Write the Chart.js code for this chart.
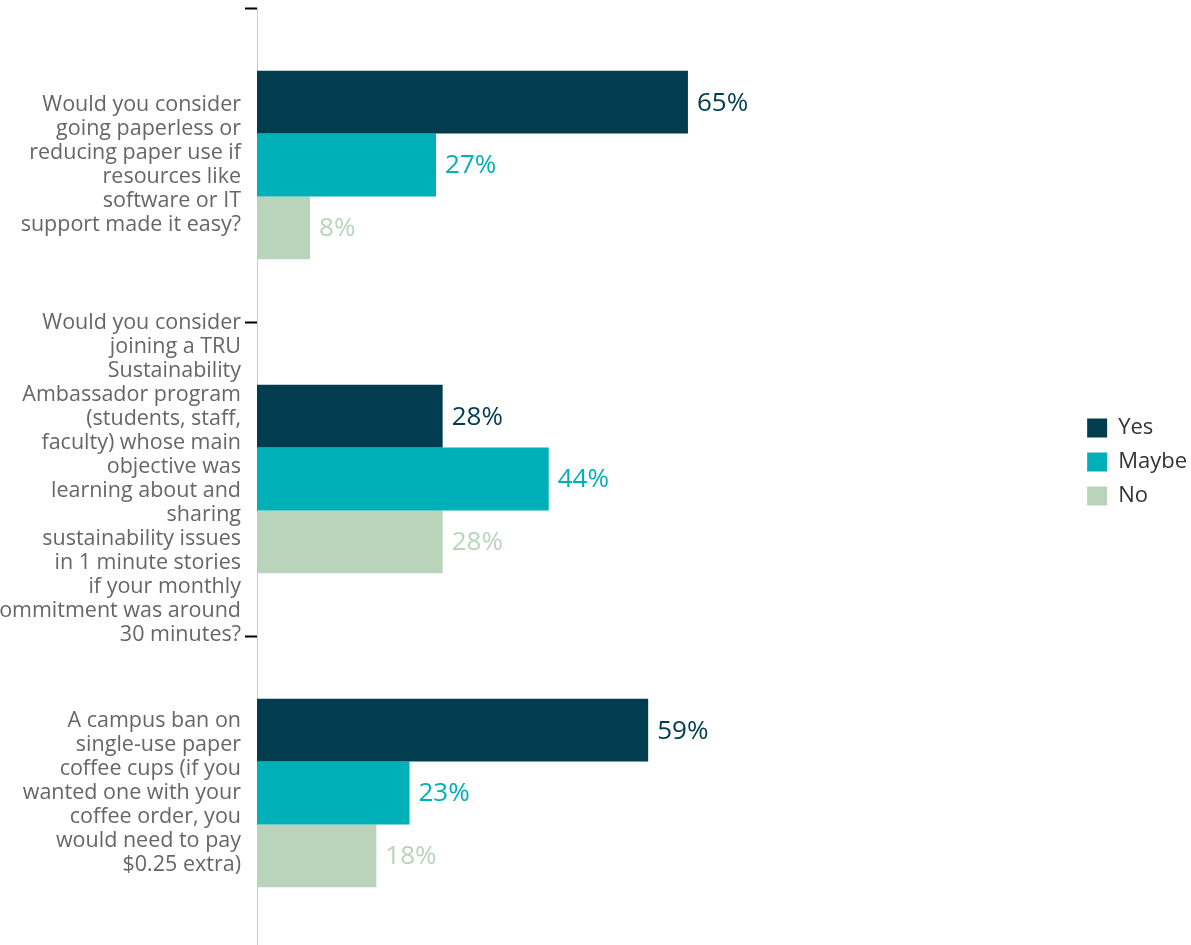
<!DOCTYPE html>
<html>
<head>
<meta charset="utf-8">
<script src="https://cdn.jsdelivr.net/npm/chart.js@4/dist/chart.umd.min.js"></script>
<style>
  html, body { margin: 0; padding: 0; background: #fff; overflow: hidden; }
  #wrap { width: 1191px; height: 950px; }
</style>
</head>
<body>
<div id="wrap"><canvas id="surveyChart"></canvas></div>
<script>
const questions = [
  ["Would you consider", "going paperless or", "reducing paper use if", "resources like", "software or IT", "support made it easy?"],
  ["Would you consider", "joining a TRU", "Sustainability", "Ambassador program", "(students, staff,", "faculty) whose main", "objective was", "learning about and", "sharing", "sustainability issues", "in 1 minute stories", "if your monthly", "commitment was around", "30 minutes?"],
  ["A campus ban on", "single-use paper", "coffee cups (if you", "wanted one with your", "coffee order, you", "would need to pay", "$0.25 extra)"]
];
const yesValues = [65, 28, 59];
const maybeValues = [27, 44, 23];
const noValues = [8, 28, 18];

const colors = { yes: "#023d4f", maybe: "#00b0b9", no: "#bad3bb" };

// draws "65%" just past the end of every bar
const valueLabels = {
  id: "valueLabels",
  afterDatasetsDraw(chart) {
    const ctx = chart.ctx;
    ctx.save();
    ctx.font = "26px 'Open Sans'";
    ctx.textBaseline = "middle";
    ctx.textAlign = "left";
    chart.data.datasets.forEach((ds, i) => {
      chart.getDatasetMeta(i).data.forEach((bar, j) => {
        ctx.fillStyle = ds.backgroundColor;
        ctx.fillText(ds.data[j] + "%", bar.x + 9, bar.y + 1);
      });
    });
    ctx.restore();
  }
};

// pull the legend a few px closer to the right edge
const tightLegend = {
  id: "tightLegend",
  beforeInit(chart) {
    const fit = chart.legend.fit;
    chart.legend.fit = function () {
      fit.call(this);
      this.width -= 6;
    };
  }
};

new Chart(document.getElementById("surveyChart"), {
  type: "bar",
  data: {
    labels: questions,
    datasets: [
      { label: "Yes", data: yesValues, backgroundColor: colors.yes },
      { label: "Maybe", data: maybeValues, backgroundColor: colors.maybe },
      { label: "No", data: noValues, backgroundColor: colors.no }
    ]
  },
  options: {
    indexAxis: "y",
    responsive: true,
    maintainAspectRatio: false,
    animation: false,
    categoryPercentage: 0.6,
    barPercentage: 1.0,
    layout: { padding: { top: 8, bottom: 0, left: 0, right: 0 } },
    scales: {
      x: { display: false, min: 0, max: 123.4 },
      y: {
        afterFit(scale) {
          scale.width = 257;
          scale.paddingTop = 0;
          scale.paddingBottom = 0;
        },
        border: { display: true, color: "#cccccc", width: 1 },
        grid: {
          drawOnChartArea: false,
          drawTicks: true,
          tickLength: 12,
          tickColor: "#000000",
          tickWidth: 2,
          offset: true
        },
        ticks: {
          autoSkip: false,
          color: "#666666",
          padding: 4,
          font: { family: "'Open Sans'", size: 21.5, lineHeight: "24px" }
        }
      }
    },
    plugins: {
      legend: {
        position: "right",
        labels: {
          boxWidth: 20,
          boxHeight: 19,
          padding: 12,
          color: "#333333",
          font: { family: "'Open Sans'", size: 22 },
          generateLabels(chart) {
            const items = Chart.defaults.plugins.legend.labels.generateLabels(chart);
            // blank spacer so the three real entries sit a little above centre
            items.push({ text: "", fillStyle: "rgba(0,0,0,0)", strokeStyle: "rgba(0,0,0,0)", lineWidth: 0, hidden: false });
            return items;
          }
        }
      },
      tooltip: { enabled: false }
    }
  },
  plugins: [valueLabels, tightLegend]
});
</script>
</body>
</html>
